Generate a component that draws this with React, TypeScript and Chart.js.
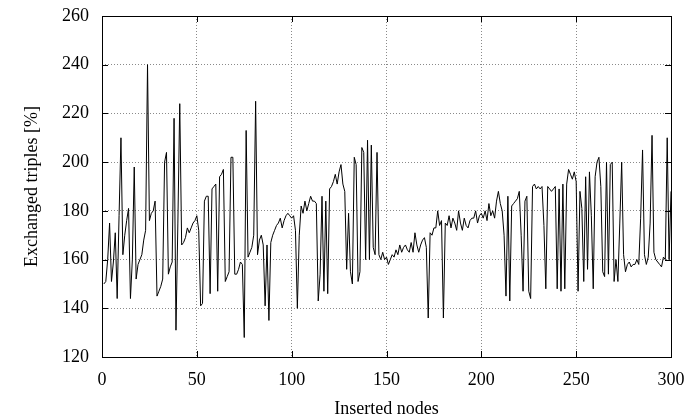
import React, { useEffect, useRef } from "react";
import { Chart, registerables } from "chart.js";

Chart.register(...registerables);

const xTicks = [0, 50, 100, 150, 200, 250, 300];
const yTicks = [120, 140, 160, 180, 200, 220, 240, 260];

const values001to050 = [
  150, 151, 160, 175, 151, 159, 171, 144, 178, 210,
  162, 170, 176, 181, 144, 160, 198, 152, 158, 160,
  162, 168, 172, 240, 176, 179, 180, 184, 145, 147,
  149, 152, 200, 204, 154, 157, 159, 218, 131, 175,
  224, 166, 167, 169, 173, 171, 173, 175, 176, 178,
];
const values051to100 = [
  172, 141, 142, 184, 186, 186, 146, 189, 190, 191,
  147, 194, 195, 197, 151, 153, 155, 202, 202, 154,
  154, 156, 159, 158, 128, 213, 161, 163, 165, 170,
  225, 162, 168, 170, 166, 141, 166, 135, 167, 170,
  172, 174, 175, 177, 173, 176, 178, 179, 178, 177,
];
const values101to150 = [
  178, 172, 140, 170, 182, 179, 184, 180, 183, 186,
  184, 184, 183, 143, 154, 186, 147, 184, 146, 189,
  190, 192, 195, 191, 196, 199, 191, 188, 156, 179,
  155, 150, 202, 199, 151, 155, 206, 204, 160, 209,
  160, 207, 165, 162, 204, 162, 160, 163, 160, 161,
];
const values151to200 = [
  158, 160, 162, 161, 164, 162, 166, 163, 165, 166,
  164, 163, 167, 163, 171, 166, 163, 166, 168, 169,
  165, 136, 171, 170, 173, 173, 180, 174, 176, 136,
  175, 174, 178, 173, 177, 175, 172, 180, 175, 172,
  177, 174, 173, 176, 177, 177, 180, 175, 178, 179,
];
const values201to250 = [
  177, 180, 176, 183, 178, 180, 177, 184, 188, 183,
  180, 170, 145, 186, 143, 182, 183, 184, 185, 188,
  170, 147, 184, 186, 147, 144, 190, 191, 189, 190,
  189, 190, 174, 148, 190, 189, 188, 189, 190, 148,
  189, 147, 191, 148, 191, 197, 195, 193, 196, 192,
];
const values251to300 = [
  147, 188, 181, 151, 194, 156, 196, 178, 148, 194,
  200, 202, 190, 155, 153, 200, 154, 199, 200, 151,
  160, 151, 175, 200, 162, 155, 158, 159, 157, 158,
  158, 160, 158, 177, 205, 162, 158, 161, 175, 211,
  163, 160, 159, 158, 157, 161, 160, 210, 160, 188,
];

const exchanged = [
  ...values001to050,
  ...values051to100,
  ...values101to150,
  ...values151to200,
  ...values201to250,
  ...values251to300,
];
const insertedNodes = exchanged.map((_, i) => i + 1);

const FONT = "'Liberation Serif', 'Times New Roman', serif";

const framePlugin = {
  id: "frame",
  afterDraw(chart: any) {
    const { ctx, chartArea } = chart;
    const { left, right, top, bottom } = chartArea;
    const xs = chart.scales.x;
    const ys = chart.scales.y;
    const tl = 6;
    ctx.save();
    ctx.strokeStyle = "#000";
    ctx.lineWidth = 1;
    ctx.beginPath();
    xTicks.forEach((v) => {
      const px = Math.round(xs.getPixelForValue(v)) + 0.5;
      ctx.moveTo(px, bottom);
      ctx.lineTo(px, bottom - tl);
      ctx.moveTo(px, top);
      ctx.lineTo(px, top + tl);
    });
    yTicks.forEach((v) => {
      const py = Math.round(ys.getPixelForValue(v)) + 0.5;
      ctx.moveTo(left, py);
      ctx.lineTo(left + tl, py);
      ctx.moveTo(right, py);
      ctx.lineTo(right - tl, py);
    });
    ctx.stroke();
    ctx.strokeRect(
      Math.round(left) + 0.5,
      Math.round(top) + 0.5,
      Math.round(right - left),
      Math.round(bottom - top)
    );
    ctx.restore();
  },
};

export default function App() {
  const canvasRef = useRef<HTMLCanvasElement | null>(null);

  useEffect(() => {
    document.body.style.margin = "0";
    const canvas = canvasRef.current;
    if (!canvas) return;
    const chart = new Chart(canvas, {
      type: "line",
      data: {
        datasets: [
          {
            data: insertedNodes.map((n, i) => ({ x: n, y: exchanged[i] })),
            borderColor: "#000",
            borderWidth: 1,
            pointRadius: 0,
            tension: 0,
            fill: false,
          },
        ],
      },
      options: {
        animation: false,
        responsive: false,
        maintainAspectRatio: false,
        layout: { padding: { left: 0, right: 18, top: 16, bottom: 0 } },
        plugins: {
          legend: { display: false },
          tooltip: { enabled: false },
        },
        scales: {
          x: {
            type: "linear",
            min: 0,
            max: 300,
            afterFit: (scale: any) => {
              scale.height = 63;
              scale.paddingLeft = 0;
              scale.paddingRight = 0;
            },
            afterBuildTicks: (scale: any) => {
              scale.ticks = xTicks.map((v) => ({ value: v }));
            },
            ticks: {
              color: "#000",
              font: { family: FONT, size: 18 },
              padding: 12,
              maxRotation: 0,
              autoSkip: false,
            },
            grid: {
              drawTicks: false,
              color: "#8a8a8a",
              lineWidth: 1,
            },
            border: { display: false, dash: [1, 2] },
            title: {
              display: true,
              text: "Inserted nodes",
              color: "#000",
              font: { family: FONT, size: 18 },
              padding: { top: 0, bottom: 0 },
            },
          },
          y: {
            type: "linear",
            min: 120,
            max: 260,
            afterFit: (scale: any) => {
              scale.width = 102;
              scale.paddingTop = 0;
              scale.paddingBottom = 0;
            },
            afterBuildTicks: (scale: any) => {
              scale.ticks = yTicks.map((v) => ({ value: v }));
            },
            ticks: {
              color: "#000",
              font: { family: FONT, size: 18 },
              padding: 13,
              autoSkip: false,
            },
            grid: {
              drawTicks: false,
              color: "#8a8a8a",
              lineWidth: 1,
            },
            border: { display: false, dash: [1, 2] },
            title: {
              display: true,
              text: "Exchanged triples [%]",
              color: "#000",
              font: { family: FONT, size: 18 },
              padding: { top: 21, bottom: 0 },
            },
          },
        },
      },
      plugins: [framePlugin],
    });
    return () => chart.destroy();
  }, []);

  return (
    <div style={{ position: "absolute", left: 0, top: 0, width: 689, height: 420 }}>
      <canvas ref={canvasRef} width={689} height={420} style={{ width: 689, height: 420 }} />
    </div>
  );
}
